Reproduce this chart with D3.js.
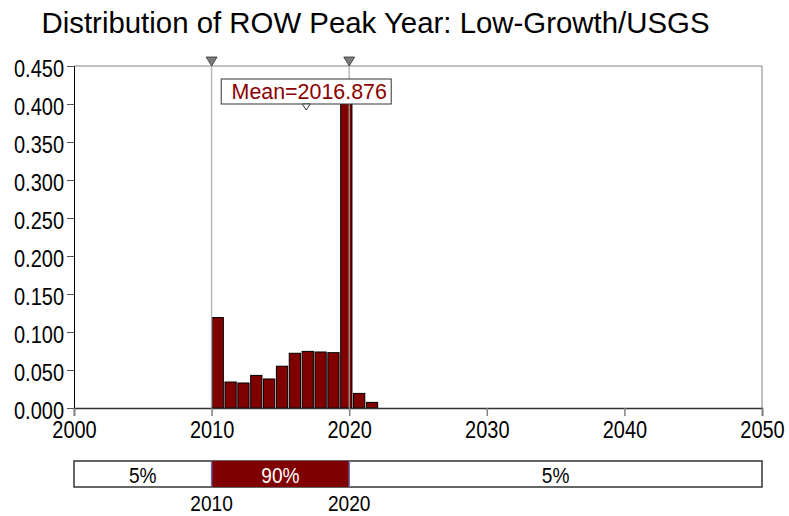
<!DOCTYPE html>
<html lang="en">
<head>
    <meta charset="UTF-8">
    <script src="https://d3js.org/d3.v7.min.js"></script>
    <title>ROW Peak Year</title>
    <style>
        body { margin: 0; background: #fff; }
        text { font-family: 'Liberation Sans', Arial, sans-serif; }
        .axis text { font-size: 23.5px; fill: #000; }
    </style>
</head>
<body>
<svg height="516" width="789"></svg>
<script>
    // histogram bins (lower edge = binStart + i * binWidth)
    const binStart = 2010, binWidth = 0.9345;
    const density = [0.119, 0.0342, 0.0329, 0.0429, 0.0382, 0.055, 0.072, 0.0745, 0.0737, 0.0728, 0.405, 0.0192, 0.0074];
    const yTicks = [0, 0.05, 0.1, 0.15, 0.2, 0.25, 0.3, 0.35, 0.4, 0.45];
    const xTicks = [2000, 2010, 2020, 2030, 2040, 2050];
    const markers = [2010, 2020];
    const bandLabels = ["5%", "90%", "5%"];
    const mean = 2016.876;

    const svg = d3.select("svg");
    const x = d3.scaleLinear().domain([2000, 2050]).range([74, 762]);
    const y = d3.scaleLinear().domain([0, 0.45]).range([408, 66]);
    const red = "#800000";

    // the original uses a narrow-looking face; squeeze glyphs horizontally
    function condense(sel, f) {
        sel.each(function() {
            const w = this.getComputedTextLength();
            d3.select(this).attr("textLength", w * f).attr("lengthAdjust", "spacingAndGlyphs");
        });
    }

    const title = svg.append("text")
        .attr("x", 375.5).attr("y", 33)
        .attr("text-anchor", "middle")
        .style("font-size", "30px")
        .text("Distribution of ROW Peak Year: Low-Growth/USGS");
    title.attr("textLength", 668).attr("lengthAdjust", "spacingAndGlyphs");

    // frame: top and right in grey
    svg.append("line").attr("x1", x(2000)).attr("x2", x(2050)).attr("y1", y(0.45)).attr("y2", y(0.45))
        .attr("stroke", "#808080");
    svg.append("line").attr("x1", x(2050)).attr("x2", x(2050)).attr("y1", y(0.45)).attr("y2", y(0))
        .attr("stroke", "#808080");

    // bars
    svg.append("g").selectAll("rect").data(density).enter().append("rect")
        .attr("x", (d, i) => x(binStart + i * binWidth) + 0.5)
        .attr("width", x(binStart + binWidth) - x(binStart) - 1.6)
        .attr("y", d => y(d))
        .attr("height", d => y(0) - y(d))
        .attr("fill", red)
        .attr("stroke", "#000").attr("stroke-width", 1);

    // percentile marker lines
    svg.append("g").selectAll("line").data(markers).enter().append("line")
        .attr("x1", d => x(d)).attr("x2", d => x(d))
        .attr("y1", y(0.45)).attr("y2", y(0))
        .attr("stroke", "#a8a8a8").attr("stroke-width", 1.5).attr("opacity", 0.8);
    svg.append("g").selectAll("path").data(markers).enter().append("path")
        .attr("transform", d => `translate(${x(d)},${y(0.45)})`)
        .attr("d", "M-5.5,-9L5.5,-9L0,0Z")
        .attr("fill", "#7a7a7a").attr("stroke", "#333").attr("stroke-width", 0.8);

    // axes
    const yAxis = svg.append("g").attr("class", "axis")
        .attr("transform", `translate(${x(2000)},0)`)
        .call(d3.axisLeft(y).tickValues(yTicks).tickFormat(d3.format(".3f")).tickSize(7).tickPadding(3));
    yAxis.select(".domain").attr("stroke", "#000");
    yAxis.selectAll(".tick line").attr("stroke", "#555");
    yAxis.selectAll(".tick text").attr("dy", "0.45em").call(condense, 0.85);

    const xAxis = svg.append("g").attr("class", "axis")
        .attr("transform", `translate(0,${y(0)})`)
        .call(d3.axisBottom(x).tickValues(xTicks).tickFormat(d3.format("d")).tickSize(8).tickPadding(5.5));
    xAxis.select(".domain").attr("stroke", "#333").attr("stroke-width", 1.5);
    xAxis.selectAll(".tick line").attr("stroke", "#808080").attr("stroke-width", 1.5);
    xAxis.selectAll(".tick text").call(condense, 0.85);

    // mean label
    const mx = x(mean);
    svg.append("rect").attr("x", mx - 85).attr("y", 79).attr("width", 170).attr("height", 25)
        .attr("fill", "#fff").attr("stroke", "#333");
    svg.append("text").attr("x", mx + 3).attr("y", 98.5)
        .attr("text-anchor", "middle").attr("fill", "#8b0000")
        .style("font-size", "22.3px").text("Mean=" + mean.toFixed(3))
        .call(condense, 0.96);
    svg.append("path").attr("transform", `translate(${mx},104)`)
        .attr("d", "M-4,0L4,0L0,6Z").attr("fill", "#fff").attr("stroke", "#333");

    // percentile band strip
    const bandEdges = [2000, markers[0], markers[1], 2050];
    const strip = svg.append("g");
    strip.append("rect").attr("x", x(2000)).attr("y", 461).attr("width", x(2050) - x(2000)).attr("height", 26)
        .attr("fill", "#fff").attr("stroke", "#333").attr("stroke-width", 1.5);
    strip.append("rect").attr("x", x(markers[0])).attr("y", 461)
        .attr("width", x(markers[1]) - x(markers[0])).attr("height", 26).attr("fill", red);
    strip.selectAll("line").data(markers).enter().append("line")
        .attr("x1", d => x(d)).attr("x2", d => x(d)).attr("y1", 461).attr("y2", 487)
        .attr("stroke", "#6a6aa8").attr("stroke-width", 1.5);
    strip.selectAll("text.band").data(bandLabels).enter().append("text")
        .attr("class", "band")
        .attr("x", (d, i) => (x(bandEdges[i]) + x(bandEdges[i + 1])) / 2)
        .attr("y", 483).attr("text-anchor", "middle")
        .attr("fill", (d, i) => i === 1 ? "#fff" : "#000")
        .style("font-size", "22.5px").text(d => d)
        .call(condense, 0.85);
    strip.selectAll("text.mark").data(markers).enter().append("text")
        .attr("class", "mark")
        .attr("x", d => x(d)).attr("y", 510.5).attr("text-anchor", "middle")
        .style("font-size", "22.5px").text(d => d)
        .call(condense, 0.85);
</script>
</body>
</html>
